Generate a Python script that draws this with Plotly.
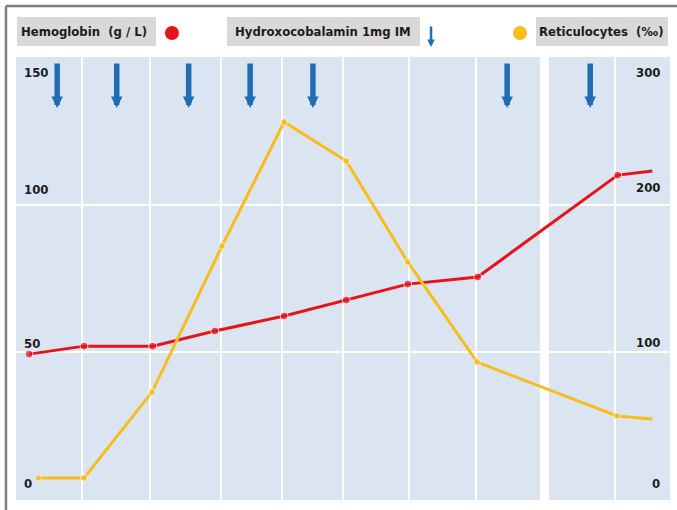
import plotly.graph_objects as go

# ---------------- data ----------------
hb_days = [2.0, 10.4, 20.9, 30.4, 41.0, 50.5, 59.9, 70.6, 92.0, 97.3]
hb_values = [49.4, 52.1, 52.1, 57.2, 62.3, 67.7, 73.1, 75.5, 110.0, 111.4]
hb_marker = [1, 1, 1, 1, 1, 1, 1, 1, 1, 0]

retic_days = [3.4, 10.4, 20.8, 31.5, 41.0, 50.5, 59.9, 70.5, 91.9, 97.3]
retic_values = [14.9, 14.9, 73.1, 172.0, 256.0, 229.6, 161.2, 93.4, 56.9, 54.9]
retic_marker = [1, 1, 1, 1, 1, 1, 1, 1, 1, 0]

dose_days = [6.3, 15.4, 26.4, 35.8, 45.4, 75.1, 87.8]

grid_days = [10.1, 20.5, 31.3, 40.7, 50.0, 60.1, 70.3, 91.6]
axis_break = [80.1, 81.5]

left_ticks = [0, 50, 100, 150]
right_ticks = [0, 100, 200, 300]

# ---------------- style ----------------
RED = "#e6131b"
YEL = "#f6bd1c"
BLUE = "#1f6db5"
BG = "#dbe5f1"
BOX = "#d9d9d9"
FONT = "DejaVu Sans Condensed, Liberation Sans Narrow, Roboto, sans-serif"
TXT = "#1c1c1c"


def fnt(size):
    return dict(family=FONT, size=size, color=TXT, weight="bold")


fig = go.Figure()

fig.add_trace(go.Scatter(
    x=retic_days, y=retic_values, yaxis="y2", mode="lines+markers",
    line=dict(color=YEL, width=3),
    marker=dict(color=YEL, size=[7 * m for m in retic_marker]),
    showlegend=False, hoverinfo="skip"))

fig.add_trace(go.Scatter(
    x=hb_days, y=hb_values, mode="lines+markers",
    line=dict(color=RED, width=3),
    marker=dict(color=RED, size=[8 * m for m in hb_marker]),
    showlegend=False, hoverinfo="skip"))

shapes = []
# axis break gap
shapes.append(dict(type="rect", xref="x", yref="paper", x0=axis_break[0], x1=axis_break[1],
                   y0=0, y1=1, fillcolor="white", line=dict(width=0), layer="below"))

# outer frame (left & top)
shapes.append(dict(type="line", xref="paper", yref="paper", x0=-0.0153, x1=-0.0153,
                   y0=-0.1, y1=1.1151, line=dict(color="#7f7f7f", width=2.5)))
shapes.append(dict(type="line", xref="paper", yref="paper", x0=-0.0153, x1=1.1,
                   y0=1.1151, y1=1.1151, line=dict(color="#7f7f7f", width=2.5)))

# header boxes
for x0, x1 in [(0.0015, 0.2141), (0.3226, 0.6177), (0.7951, 0.9969)]:
    shapes.append(dict(type="rect", xref="paper", yref="paper", x0=x0, x1=x1,
                       y0=1.0248, y1=1.0903, fillcolor=BOX, line=dict(width=0)))
# header dots
for xc, col in [(0.2385, RED), (0.7706, YEL)]:
    shapes.append(dict(type="circle", xref="paper", yref="paper", xsizemode="pixel",
                       ysizemode="pixel", xanchor=xc, yanchor=1.0542,
                       x0=-7, x1=7, y0=-7, y1=7, fillcolor=col, line=dict(width=0)))

annotations = []
# header texts
for xc, txt in [(0.1047, "Hemoglobin  (g / L)"), (0.4694, "Hydroxocobalamin 1mg IM"),
                (0.8952, "Reticulocytes  (‰)")]:
    annotations.append(dict(xref="paper", yref="paper", x=xc, y=1.0576, text=txt,
                            showarrow=False, font=fnt(13),
                            xanchor="center", yanchor="middle"))
# header small arrow
annotations.append(dict(xref="paper", yref="paper", x=0.6346, y=1.0226, ax=0, ay=-22,
                        showarrow=True, arrowhead=2, arrowsize=0.6, arrowwidth=2.5,
                        arrowcolor=BLUE, text=""))

# dose arrows
for d in dose_days:
    annotations.append(dict(xref="x", yref="y", axref="x", ayref="y", x=d, y=132.7,
                            ax=d, ay=148.3, showarrow=True, arrowhead=2, arrowsize=0.42,
                            arrowwidth=5.5, arrowcolor=BLUE, text=""))

# tick labels
left_shift = {0: 17, 50: 9, 100: 15, 150: -15}
right_shift = {0: 17, 100: 10, 200: 17, 300: -15}
for v in left_ticks:
    annotations.append(dict(xref="paper", yref="y", x=0.0092, y=v, yshift=left_shift[v],
                            text=str(v), showarrow=False, xanchor="left",
                            yanchor="middle", font=fnt(13)))
for v in right_ticks:
    annotations.append(dict(xref="paper", yref="y2", x=0.988, y=v, yshift=right_shift[v],
                            text=str(v), showarrow=False, xanchor="right",
                            yanchor="middle", font=fnt(13)))

fig.update_layout(
    width=677, height=510,
    margin=dict(l=16, r=7, t=57, b=10),
    paper_bgcolor="white", plot_bgcolor=BG,
    xaxis=dict(range=[0, 100], tickvals=grid_days, showticklabels=False, ticks="",
               showgrid=True, gridcolor="white", gridwidth=1.5, zeroline=False,
               showline=False, fixedrange=True),
    yaxis=dict(range=[0, 150], tickvals=[50, 100], showticklabels=False, ticks="",
               showgrid=True, gridcolor="white", gridwidth=2, zeroline=False,
               showline=False, fixedrange=True),
    yaxis2=dict(range=[0, 300], overlaying="y", side="right", showticklabels=False,
                showgrid=False, zeroline=False, showline=False, ticks="", fixedrange=True),
    shapes=shapes, annotations=annotations,
    font=dict(family=FONT),
)

fig.write_html("out.html", config={"displayModeBar": False},
               post_script="document.body.style.margin='0px';document.body.style.overflow='hidden';")
